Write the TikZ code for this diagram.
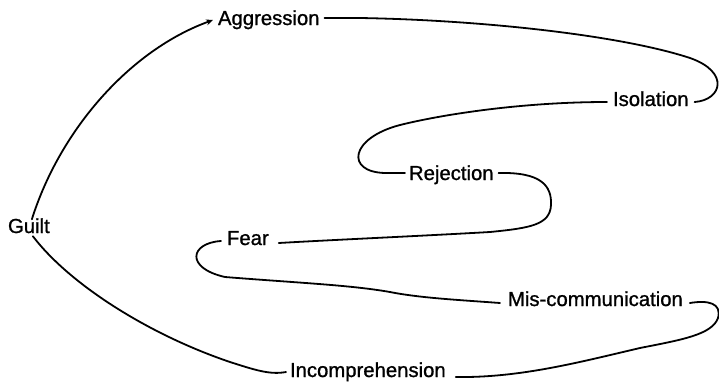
\documentclass[tikz,border=0pt]{standalone}
\usepackage{fontspec}
\setmainfont{Liberation Sans}
\newfontfamily\lblfont[FakeBold=1]{Liberation Sans}
\usetikzlibrary{arrows.meta}
\begin{document}
\begin{tikzpicture}[x=1pt,y=-1pt,
  lbl/.style={inner sep=0pt,outer sep=0pt,anchor=base west,font=\lblfont\fontsize{20.3}{22}\selectfont},
  conn/.style={line width=1.8pt,line cap=round,line join=round}]
\useasboundingbox (0,0) rectangle (719,381);
\fill[white] (0,0) rectangle (719,381);

\node[lbl] (guilt)  at (8,233)   {Guilt};
\node[lbl] (aggr)   at (218,25)  {Aggression};
\node[lbl] (isol)   at (613,106) {Isolation};
\node[lbl] (rej)    at (409,180) {Rejection};
\node[lbl] (fear)   at (227,245) {Fear};
\node[lbl] (mis)    at (508,306) {Mis-communication};
\node[lbl] (incomp) at (290,377) {Incomprehension};

% Guilt -> Aggression
\draw[conn,-{Stealth[length=7pt,width=6pt]}]
  ([xshift=3pt,yshift=-1pt]guilt.north) .. controls (60,130) and (130,50) .. ([xshift=-5pt,yshift=5pt]aggr.base west);

% Aggression -> Isolation
\draw[conn] ([xshift=5pt,yshift=7pt]aggr.base east) -- (360,18)
  .. controls (480,20) and (620,35) .. (690,58)
  .. controls (730,72) and (722,100) .. ([xshift=6pt,yshift=4pt]isol.base east);

% Isolation -> Rejection
\draw[conn] ([xshift=-6pt,yshift=4pt]isol.base west) .. controls (520,102) and (440,115) .. (400,125)
  .. controls (350,138) and (345,172) .. (385,173) -- ([xshift=-4pt,yshift=7pt]rej.base west);

% Rejection -> Fear
\draw[conn] ([xshift=5pt,yshift=7pt]rej.base east) .. controls (540,172) and (552,185) .. (551,205)
  .. controls (550,225) and (530,228) .. (490,232)
  .. controls (420,236) and (330,240) .. ([xshift=10pt,yshift=2pt]fear.base east);

% Fear -> Mis-communication
\draw[conn] ([xshift=-6pt,yshift=4pt]fear.base west) .. controls (190,243) and (185,268) .. (225,277)
  .. controls (300,283) and (350,285) .. (390,292)
  .. controls (420,298) and (460,300) .. ([xshift=-8pt,yshift=3pt]mis.base west);

% Mis-communication -> Incomprehension
\draw[conn] ([xshift=7pt,yshift=3pt]mis.base east) .. controls (708,300) and (722,303) .. (718,318)
  .. controls (712,335) and (680,340) .. (640,348)
  .. controls (580,362) and (520,378) .. ([xshift=10pt,yshift=0pt]incomp.base east);

% Guilt -> Incomprehension
\draw[conn] ([xshift=4pt,yshift=-3pt]guilt.south) .. controls (70,285) and (150,335) .. (230,362)
  .. controls (255,370) and (270,375) .. ([xshift=-4pt,yshift=5pt]incomp.base west);
\end{tikzpicture}
\end{document}
